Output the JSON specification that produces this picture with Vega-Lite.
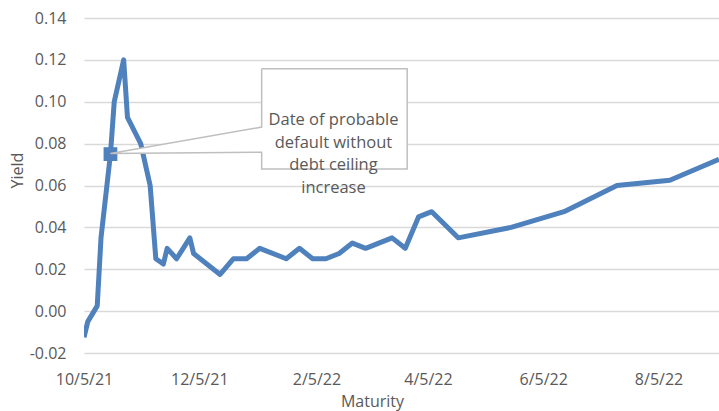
{
  "$schema": "https://vega.github.io/schema/vega-lite/v6.json",
  "width": 635,
  "height": 335,
  "autosize": "none",
  "padding": {"left": 84, "top": 18, "right": 0, "bottom": 58},
  "background": "white",
  "config": {
    "view": {"stroke": null},
    "font": "Open Sans"
  },
  "datasets": {
    "series": [
      {"date": "2021-10-05", "yield": -0.0125},
      {"date": "2021-10-07", "yield": -0.005},
      {"date": "2021-10-12", "yield": 0.0025},
      {"date": "2021-10-14", "yield": 0.035},
      {"date": "2021-10-19", "yield": 0.075},
      {"date": "2021-10-21", "yield": 0.1},
      {"date": "2021-10-26", "yield": 0.12},
      {"date": "2021-10-28", "yield": 0.0925},
      {"date": "2021-11-04", "yield": 0.08},
      {"date": "2021-11-09", "yield": 0.06},
      {"date": "2021-11-12", "yield": 0.025},
      {"date": "2021-11-16", "yield": 0.0225},
      {"date": "2021-11-18", "yield": 0.03},
      {"date": "2021-11-23", "yield": 0.025},
      {"date": "2021-11-30", "yield": 0.035},
      {"date": "2021-12-02", "yield": 0.0275},
      {"date": "2021-12-16", "yield": 0.0175},
      {"date": "2021-12-23", "yield": 0.025},
      {"date": "2021-12-30", "yield": 0.025},
      {"date": "2022-01-06", "yield": 0.03},
      {"date": "2022-01-20", "yield": 0.025},
      {"date": "2022-01-27", "yield": 0.03},
      {"date": "2022-02-03", "yield": 0.025},
      {"date": "2022-02-10", "yield": 0.025},
      {"date": "2022-02-17", "yield": 0.0275},
      {"date": "2022-02-24", "yield": 0.0325},
      {"date": "2022-03-03", "yield": 0.03},
      {"date": "2022-03-17", "yield": 0.035},
      {"date": "2022-03-24", "yield": 0.03},
      {"date": "2022-03-31", "yield": 0.045},
      {"date": "2022-04-07", "yield": 0.0475},
      {"date": "2022-04-21", "yield": 0.035},
      {"date": "2022-05-19", "yield": 0.04},
      {"date": "2022-06-16", "yield": 0.0475},
      {"date": "2022-07-14", "yield": 0.06},
      {"date": "2022-08-11", "yield": 0.0625},
      {"date": "2022-09-06", "yield": 0.0725}
    ],
    "marker": [
      {"date": "2021-10-19", "yield": 0.075}
    ],
    "callout": [
      {"i": 0, "date": "2022-01-07", "yield": 0.1158},
      {"i": 1, "date": "2022-03-25", "yield": 0.1158},
      {"i": 2, "date": "2022-03-25", "yield": 0.0679},
      {"i": 3, "date": "2022-01-07", "yield": 0.0679},
      {"i": 4, "date": "2022-01-07", "yield": 0.0759},
      {"i": 5, "date": "2021-10-19", "yield": 0.0753},
      {"i": 6, "date": "2022-01-07", "yield": 0.0879},
      {"i": 7, "date": "2022-01-07", "yield": 0.1158}
    ],
    "note": [
      {"date": "2022-02-14", "yield": 0.0913, "label": "Date of probable\ndefault without\ndebt ceiling\nincrease"}
    ]
  },
  "encoding": {
    "x": {
      "field": "date",
      "type": "temporal",
      "scale": {
        "type": "utc",
        "domain": [
          {"year": 2021, "month": 10, "date": 5, "utc": true},
          {"year": 2022, "month": 9, "date": 6, "utc": true}
        ]
      },
      "axis": {
        "title": "Maturity",
        "values": [
          {"year": 2021, "month": 10, "date": 5, "utc": true},
          {"year": 2021, "month": 12, "date": 5, "utc": true},
          {"year": 2022, "month": 2, "date": 5, "utc": true},
          {"year": 2022, "month": 4, "date": 5, "utc": true},
          {"year": 2022, "month": 6, "date": 5, "utc": true},
          {"year": 2022, "month": 8, "date": 5, "utc": true}
        ],
        "labelExpr": "utcFormat(datum.value, '%-m/%-d/%y')",
        "labelFlush": false,
        "labelBound": false,
        "grid": false,
        "domain": false,
        "ticks": false,
        "tickSize": 0,
        "labelPadding": 31,
        "labelBaseline": "alphabetic",
        "labelFontSize": 16,
        "labelColor": "#595959",
        "labelFont": "Open Sans",
        "labelOverlap": false,
        "titleFontSize": 16,
        "titleFontWeight": "normal",
        "titleColor": "#595959",
        "titleFont": "Open Sans",
        "titleX": 288,
        "titleY": 53,
        "titleBaseline": "alphabetic"
      }
    },
    "y": {
      "field": "yield",
      "type": "quantitative",
      "scale": {"domain": [-0.02, 0.14], "nice": false, "zero": false},
      "axis": {
        "title": "Yield",
        "values": [-0.02, 0, 0.02, 0.04, 0.06, 0.08, 0.1, 0.12, 0.14],
        "labelExpr": "replace(format(datum.value, '.2f'), '\u2212', '-')",
        "grid": true,
        "gridColor": "#D9D9D9",
        "gridWidth": 1.3,
        "domain": false,
        "ticks": false,
        "tickSize": 0,
        "labelPadding": 18,
        "labelFontSize": 16,
        "labelColor": "#595959",
        "labelFont": "Open Sans",
        "titleFontSize": 16,
        "titleFontWeight": "normal",
        "titleColor": "#595959",
        "titleFont": "Open Sans",
        "titlePadding": 4,
        "titleY": 152
      }
    }
  },
  "layer": [
    {
      "data": {"name": "series"},
      "mark": {"type": "line", "color": "#4F81BD", "strokeWidth": 5, "strokeJoin": "round", "clip": true}
    },
    {
      "data": {"name": "marker"},
      "mark": {"type": "point", "shape": "square", "filled": true, "color": "#4F81BD", "opacity": 1, "size": 190}
    },
    {
      "data": {"name": "callout"},
      "mark": {"type": "line", "stroke": "#BFBFBF", "fill": "white", "strokeWidth": 1.5, "strokeJoin": "miter"},
      "encoding": {"order": {"field": "i", "type": "quantitative"}}
    },
    {
      "data": {"name": "note"},
      "mark": {"type": "text", "lineBreak": "\n", "lineHeight": 22.6, "fontSize": 16.5, "font": "Open Sans", "color": "#595959", "align": "center", "baseline": "middle"},
      "encoding": {"text": {"field": "label", "type": "nominal"}}
    }
  ]
}
